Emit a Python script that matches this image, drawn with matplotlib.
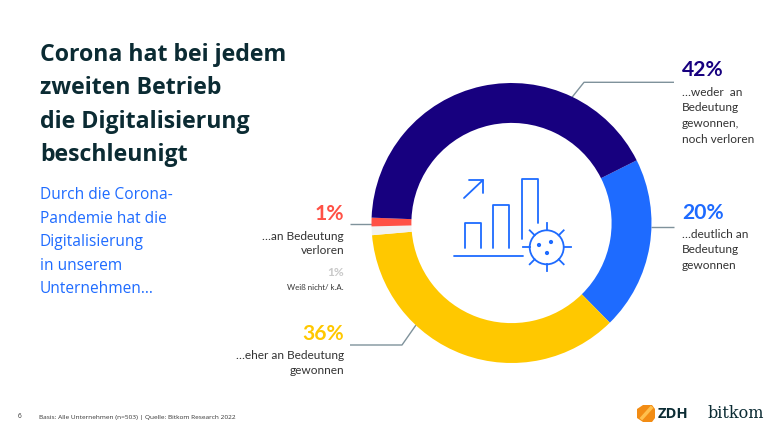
import numpy as np
import matplotlib
matplotlib.use("Agg")
import matplotlib.pyplot as plt
from matplotlib.patches import Circle, Polygon

# shares clockwise, starting at the boundary dark blue / blue
labels = ["deutlich", "eher", "weiss nicht", "verloren", "weder"]
values = [20, 36, 1, 1, 42]
colors = ["#1E6BFF", "#FFC800", "#F2F2F2", "#FF5146", "#17007F"]

title_lines = ["Corona hat bei jedem", "zweiten Betrieb", "die Digitalisierung", "beschleunigt"]
sub_lines = ["Durch die Corona-", "Pandemie hat die", "Digitalisierung", "in unserem", "Unternehmen…"]
footer = "Basis: Alle Unternehmen (n=503) | Quelle: Bitkom Research 2022"

DARK = "#0B2B33"
BLUE = "#1E6BFF"
NAVY = "#17007F"
GREY = "#7F929B"
TEXT = "#333333"
LABEL = ["Lato", "DejaVu Sans"]
PCT = 15.2
BODY = 8.6

plt.rcParams["font.family"] = ["Open Sans", "DejaVu Sans"]

W, H = 784, 441
fig = plt.figure(figsize=(W / 100, H / 100), dpi=100)

# overlay in pixel coords for text and icon
ax = fig.add_axes([0, 0, 1, 1])
ax.set_xlim(0, W)
ax.set_ylim(H, 0)
ax.axis("off")

# donut
cx, cy, r = 511.5, 223, 140
ax2 = fig.add_axes([(cx - r) / W, 1 - (cy + r) / H, 2 * r / W, 2 * r / H])
ax2.pie(values, colors=colors, startangle=26.6, counterclock=False, radius=1,
        wedgeprops={"width": 0.285, "linewidth": 0})
ax2.set_xlim(-1, 1)
ax2.set_ylim(-1, 1)
ax2.axis("off")

# headline
for i, s in enumerate(title_lines):
    ax.text(40, 55 + i * 33.3, s, fontsize=16.7, fontweight="bold", color=DARK,
            va="center", ha="left")
for i, s in enumerate(sub_lines):
    ax.text(40, 195 + i * 23.6, s, fontsize=11.2, color=BLUE, va="center", ha="left")

# leader lines
for xs, ys in [([674, 584, 572], [82.3, 82.3, 97.3]), ([651, 674], [226.7, 226.7]),
               ([350, 372.5], [223.7, 223.7]), ([350, 402, 416], [345, 345, 325])]:
    ax.plot(xs, ys, color=GREY, lw=1, solid_capstyle="butt")

# value labels right
ax.text(682, 70, "42%", fontsize=PCT, fontweight="bold", color=NAVY, va="center", family=LABEL)
for i, s in enumerate(["…weder  an", "Bedeutung", "gewonnen,", "noch verloren"]):
    ax.text(682, 92 + i * 15.7, s, fontsize=BODY, color=TEXT, va="center", family=LABEL)
ax.text(682, 213, "20%", fontsize=PCT, fontweight="bold", color=BLUE, va="center", family=LABEL)
for i, s in enumerate(["…deutlich an", "Bedeutung", "gewonnen"]):
    ax.text(682, 234 + i * 15.7, s, fontsize=BODY, color=TEXT, va="center", family=LABEL)

# value labels left
ax.text(344, 214.5, "1%", fontsize=PCT, fontweight="bold", color="#FF5146", va="center", ha="right", family=LABEL)
for i, s in enumerate(["…an Bedeutung", "verloren"]):
    ax.text(344, 236 + i * 14.8, s, fontsize=BODY, color=TEXT, va="center", ha="right", family=LABEL)
ax.text(344, 272, "1%", fontsize=8.6, fontweight="bold", color="#C8C8C8", va="center", ha="right", family=LABEL)
ax.text(344, 288, "Weiß nicht/ k.A.", fontsize=5.7, color=TEXT, va="center", ha="right", family=LABEL)
ax.text(344, 334, "36%", fontsize=PCT, fontweight="bold", color="#FFC800", va="center", ha="right", family=LABEL)
for i, s in enumerate(["…eher an Bedeutung", "gewonnen"]):
    ax.text(344, 355.5 + i * 15.3, s, fontsize=BODY, color=TEXT, va="center", ha="right", family=LABEL)

# icon in the middle
for xs, ys in [([465, 465, 481, 481], [248, 222.7, 222.7, 248]),
               ([493, 493, 509, 509], [248, 205, 205, 248]),
               ([522, 522, 538, 538], [239, 179, 179, 222.7]),
               ([454, 523], [256, 256]),
               ([464, 483], [198, 180]),
               ([469, 483, 483], [180, 180, 193])]:
    ax.plot(xs, ys, color=BLUE, lw=1.3, solid_capstyle="round")

vx, vy = 546.7, 247.3
ax.add_patch(Circle((vx, vy), 17, fill=False, ec=BLUE, lw=1.3))
for a in np.arange(0, 360, 45):
    c, s = np.cos(np.radians(a)), np.sin(np.radians(a))
    ax.plot([vx + 17 * c, vx + 24 * c], [vy + 17 * s, vy + 24 * s], color=BLUE, lw=1.3)
for dx, dy in [(539, 245), (551, 242), (547, 253)]:
    ax.add_patch(Circle((dx, dy), 2.1, fc=BLUE, ec="none"))

# footer
ax.text(18, 417, "6", fontsize=4.8, color=TEXT, va="center")
ax.text(39, 417, footer, fontsize=4.65, color=TEXT, va="center")

# logos
ax.add_patch(Polygon([(643, 405), (652, 405), (655, 409), (655, 418), (652, 422),
                      (643, 422), (637, 418), (637, 409)], fc="#F28C14", ec="none"))
ax.plot([642, 651], [418, 408], color="#FFC04D", lw=2.5)
ax.text(658, 414, "ZDH", fontsize=10.5, fontweight="bold", color=DARK, va="center")
ax.text(708, 414, "bitkom", fontsize=11.5, color=DARK, va="center", family="DejaVu Serif")

fig.savefig("out.png", dpi=100)
